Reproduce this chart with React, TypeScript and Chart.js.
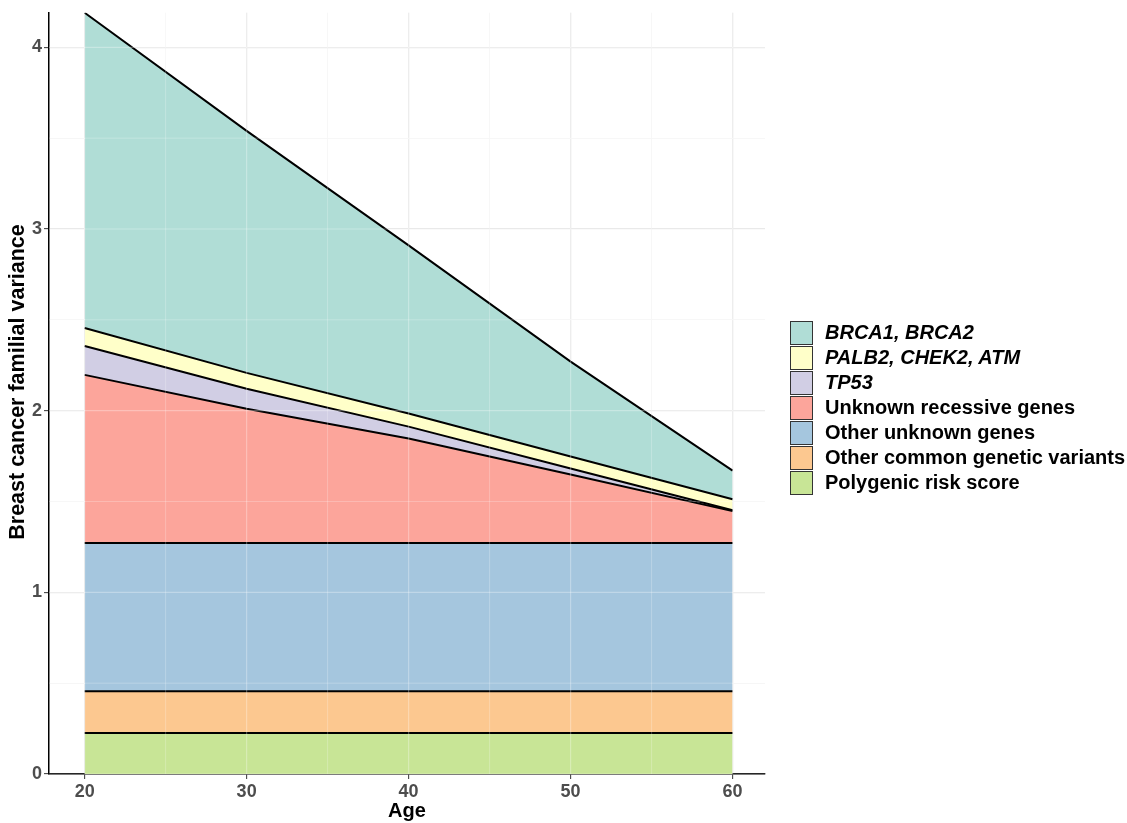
import React, { useEffect, useRef } from "react";
import { Chart, registerables } from "chart.js";

Chart.register(...registerables);

const ages = [20, 30, 40, 50, 60];
const polygenicRiskScore = [0.225, 0.225, 0.225, 0.225, 0.225];
const otherCommonVariants = [0.23, 0.23, 0.23, 0.23, 0.23];
const otherUnknownGenes = [0.816, 0.816, 0.816, 0.816, 0.816];
const unknownRecessiveGenes = [0.926, 0.74, 0.576, 0.378, 0.176];
const tp53 = [0.159, 0.11, 0.065, 0.033, 0.005];
const palb2Chek2Atm = [0.099, 0.087, 0.072, 0.066, 0.06];
const brca1Brca2 = [1.735, 1.332, 0.926, 0.522, 0.158];

const xTicks = [20, 25, 30, 35, 40, 45, 50, 55, 60];
const yTicks = [0, 0.5, 1, 1.5, 2, 2.5, 3, 3.5, 4];
const yTitle = "Breast cancer familial variance";

const seriesNames = [
  "Polygenic risk score",
  "Other common genetic variants",
  "Other unknown genes",
  "Unknown recessive genes",
  "TP53",
  "PALB2, CHEK2, ATM",
  "BRCA1, BRCA2",
];
const seriesItalic = [false, false, false, false, true, true, true];
const seriesValues = [
  polygenicRiskScore,
  otherCommonVariants,
  otherUnknownGenes,
  unknownRecessiveGenes,
  tp53,
  palb2Chek2Atm,
  brca1Brca2,
];
const seriesColors = [
  "#c8e596",
  "#fcc890",
  "#a5c6de",
  "#fca59b",
  "#d1cee4",
  "#ffffc9",
  "#b0ddd6",
];

const FONT = "'Liberation Sans', Arial, Helvetica, sans-serif";

const gridOverlay = {
  id: "gridOverlay",
  afterDatasetsDraw(chart: any) {
    const { ctx, chartArea, scales } = chart;
    ctx.save();
    ctx.beginPath();
    ctx.rect(chartArea.left, chartArea.top, chartArea.right - chartArea.left, chartArea.bottom - chartArea.top);
    ctx.clip();
    ctx.strokeStyle = "rgba(255,255,255,0.3)";
    xTicks.forEach((v) => {
      const px = scales.x.getPixelForValue(v);
      ctx.lineWidth = v % 10 === 0 ? 1.2 : 0.8;
      ctx.beginPath();
      ctx.moveTo(px, chartArea.top);
      ctx.lineTo(px, chartArea.bottom);
      ctx.stroke();
    });
    yTicks.forEach((v) => {
      const py = scales.y.getPixelForValue(v);
      ctx.lineWidth = v % 1 === 0 ? 1.2 : 0.8;
      ctx.beginPath();
      ctx.moveTo(chartArea.left, py);
      ctx.lineTo(chartArea.right, py);
      ctx.stroke();
    });
    ctx.restore();
  },
};

const yTitlePlugin = {
  id: "yTitlePlugin",
  afterDraw(chart: any) {
    const { ctx } = chart;
    ctx.save();
    ctx.translate(18, 382);
    ctx.rotate(-Math.PI / 2);
    ctx.font = `bold 21.5px ${FONT}`;
    ctx.fillStyle = "#000";
    ctx.textAlign = "center";
    ctx.textBaseline = "middle";
    ctx.fillText(yTitle, 0, 0);
    ctx.restore();
  },
};

export default function App() {
  const canvasRef = useRef<HTMLCanvasElement | null>(null);

  useEffect(() => {
    const canvas = canvasRef.current;
    if (!canvas) return;
    const datasets = seriesNames.map((name, i) => ({
      label: name,
      data: ages.map((a, j) => ({ x: a, y: seriesValues[i][j] })),
      backgroundColor: seriesColors[i],
      borderColor: "#000000",
      borderWidth: 2,
      pointRadius: 0,
      tension: 0,
      fill: i === 0 ? "origin" : "-1",
    }));
    const chart = new Chart(canvas, {
      type: "line",
      data: { datasets },
      plugins: [gridOverlay, yTitlePlugin],
      options: {
        animation: false,
        responsive: false,
        devicePixelRatio: 1,
        layout: { padding: { top: 9, right: 362, left: 0, bottom: 0 } },
        plugins: { legend: { display: false }, tooltip: { enabled: false } },
        scales: {
          x: {
            type: "linear",
            min: 17.8,
            max: 62,
            border: { display: true, color: "#000", width: 1.5 },
            grid: {
              color: (c: any) => (c.tick && c.tick.value % 10 === 0 ? "#e6e6e6" : "#f2f2f2"),
              lineWidth: (c: any) => (c.tick && c.tick.value % 10 === 0 ? 1.3 : 0.8),
              tickColor: (c: any) => (c.tick && c.tick.value % 10 === 0 ? "#333" : "rgba(0,0,0,0)"),
              tickLength: 5,
              tickWidth: 1,
            },
            afterBuildTicks: (s: any) => {
              s.ticks = xTicks.map((v) => ({ value: v }));
            },
            afterFit: (s: any) => {
              s.height = 49;
            },
            ticks: {
              autoSkip: false,
              maxRotation: 0,
              padding: 2,
              color: "#4d4d4d",
              font: { family: FONT, size: 18, weight: "bold" },
              callback: (v: any) => (Number(v) % 10 === 0 ? String(v) : ""),
            },
            title: {
              display: true,
              text: "Age",
              color: "#000",
              font: { family: FONT, size: 20, weight: "bold" },
              padding: { top: 0, bottom: 0 },
            },
          },
          y: {
            type: "linear",
            stacked: true,
            min: 0,
            max: 4.19,
            border: { display: true, color: "#000", width: 1.5 },
            grid: {
              color: (c: any) => (c.tick && c.tick.value % 1 === 0 ? "#e6e6e6" : "#f2f2f2"),
              lineWidth: (c: any) => (c.tick && c.tick.value % 1 === 0 ? 1.3 : 0.8),
              tickColor: (c: any) => (c.tick && c.tick.value % 1 === 0 ? "#333" : "rgba(0,0,0,0)"),
              tickLength: 5,
              tickWidth: 1,
            },
            afterBuildTicks: (s: any) => {
              s.ticks = yTicks.map((v) => ({ value: v }));
            },
            afterFit: (s: any) => {
              s.width = 49;
            },
            ticks: {
              autoSkip: false,
              padding: 2,
              color: "#4d4d4d",
              font: { family: FONT, size: 18, weight: "bold" },
              callback: (v: any) => (Number(v) % 1 === 0 ? String(v) : ""),
            },
            title: { display: false },
          },
        },
      } as any,
    });
    return () => chart.destroy();
  }, []);

  const legendOrder = seriesNames.map((_, i) => seriesNames.length - 1 - i);

  return (
    <div style={{ position: "absolute", left: 0, top: 0, width: 1127, height: 823, background: "#fff" }}>
      <canvas ref={canvasRef} width={1127} height={823} style={{ position: "absolute", left: 0, top: 0, width: 1127, height: 823 }} />
      <div style={{ position: "absolute", left: 790, top: 320, fontFamily: FONT, fontWeight: "bold", fontSize: 20, color: "#000" }}>
        {legendOrder.map((i) => (
          <div key={i} style={{ display: "flex", alignItems: "center", height: 25 }}>
            <div
              style={{
                width: 21,
                height: 22,
                border: "1px solid #333",
                background: seriesColors[i],
                marginRight: 12,
                flexShrink: 0,
              }}
            />
            <span style={{ fontStyle: seriesItalic[i] ? "italic" : "normal", whiteSpace: "nowrap" }}>{seriesNames[i]}</span>
          </div>
        ))}
      </div>
    </div>
  );
}
